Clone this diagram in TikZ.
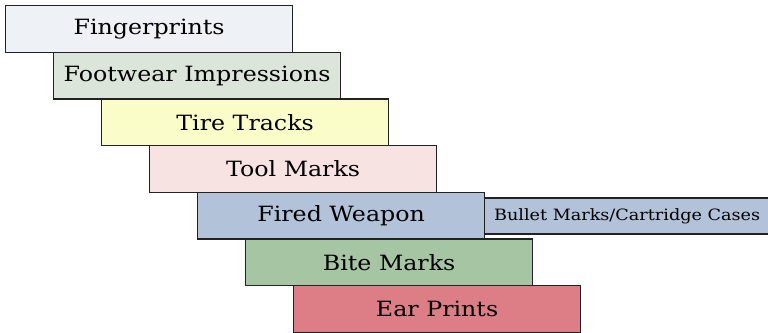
\documentclass[tikz,border=0pt]{standalone}
\usepackage{fontspec}
\setmainfont{DejaVu Serif}[FakeStretch=1.13]
\definecolor{cFinger}{HTML}{EEF1F6}
\definecolor{cFoot}{HTML}{DCE5DA}
\definecolor{cTire}{HTML}{FAFDC7}
\definecolor{cTool}{HTML}{F8E3E3}
\definecolor{cFired}{HTML}{B2C2D9}
\definecolor{cBite}{HTML}{A6C6A3}
\definecolor{cEar}{HTML}{DD7E86}
\definecolor{cEdge}{HTML}{222222}
\begin{document}
\begin{tikzpicture}[x=1pt,y=-1pt,
  stepbox/.style={draw=cEdge, line width=1.2pt, minimum width=287pt, minimum height=46.7pt,
    inner sep=0pt, anchor=north west, font=\fontsize{21}{25}\selectfont},
  sidebox/.style={draw=cEdge, line width=1.2pt, minimum width=286pt, minimum height=36pt,
    inner sep=0pt, anchor=north west, font=\fontsize{15.6}{19}\selectfont}]
  \useasboundingbox (0,0) rectangle (768,332);
  \node[stepbox, fill=cFinger] (finger) at (5,5)      {Fingerprints};
  \node[stepbox, fill=cFoot]   (foot)   at (53,51.7)  {Footwear Impressions};
  \node[stepbox, fill=cTire]   (tire)   at (101,98.3) {Tire Tracks};
  \node[stepbox, fill=cTool]   (tool)   at (149,145)  {Tool Marks};
  \node[stepbox, fill=cFired]  (fired)  at (197,191.7){Fired Weapon};
  \node[sidebox, fill=cFired]  (bullet) at (483.5,197.3) {Bullet Marks/Cartridge Cases};
  \node[stepbox, fill=cBite]   (bite)   at (245,238.3){Bite Marks};
  \node[stepbox, fill=cEar]    (ear)    at (293,285)  {Ear Prints};
\end{tikzpicture}
\end{document}
